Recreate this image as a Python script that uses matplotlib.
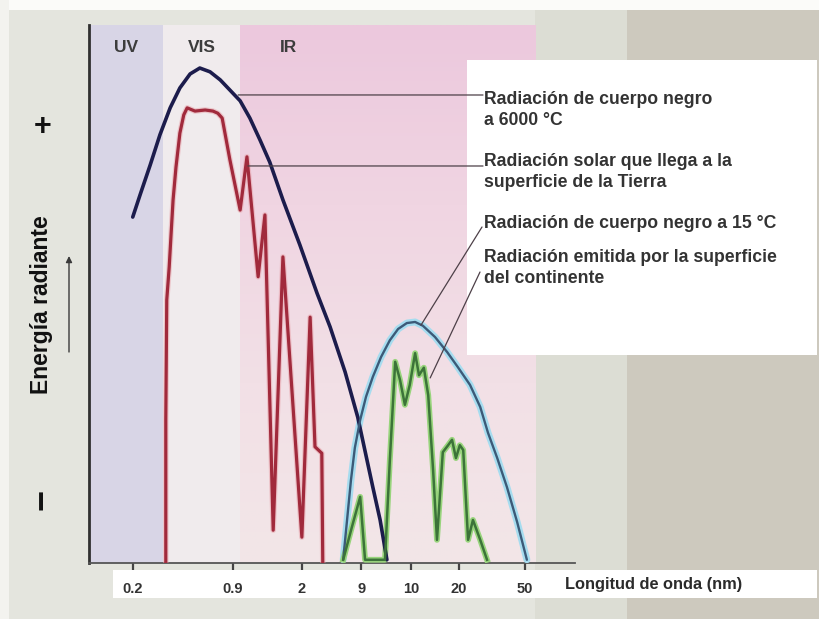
import matplotlib
matplotlib.use('Agg')
import matplotlib.pyplot as plt
import numpy as np
from matplotlib.patches import Rectangle
from matplotlib.colors import LinearSegmentedColormap
from matplotlib import font_manager as fm

W, H, DPI = 819, 619, 100

# ---------------- data ----------------
tick_pos = [9.05, 29.6, 43.8, 56.0, 66.3, 76.1, 89.7]
tick_labels = ['0.2', '0.9', '2', '9', '10', '20', '50']

band_names = ['UV', 'VIS', 'IR']
band_start = [0.0, 15.2, 31.1]
band_end = [15.2, 31.1, 92.0]

# black body at 6000 C
bb6000_x = [9.0, 10.5, 12.6, 14.6, 16.7, 18.7, 20.8, 22.8, 24.9, 27.0, 29.0, 31.1,
            33.1, 35.2, 37.2, 39.9, 43.4, 46.9, 49.6, 52.7, 55.3, 58.4, 59.9, 61.3]
bb6000_y = [64.3, 68.4, 74.0, 79.6, 84.6, 88.3, 90.9, 92.0, 91.3, 89.8, 87.9, 85.9,
            82.7, 78.6, 74.5, 67.5, 59.1, 50.2, 43.9, 35.5, 27.1, 14.1, 8.0, 0.6]

# solar radiation reaching the surface
solar_x = [15.8, 15.8, 16.0, 16.5, 16.9, 17.3, 17.9, 18.7, 19.5, 20.2, 21.8, 23.9, 25.5,
           26.5, 27.4, 29.0, 31.1, 32.5, 34.8, 36.2, 37.9, 39.9, 43.8, 45.5, 46.5, 47.9, 48.1]
solar_y = [0.2, 26.6, 48.9, 55.0, 61.3, 67.5, 73.6, 79.9, 83.3, 84.6, 84.0, 84.2, 84.0,
           83.6, 82.7, 74.9, 65.6, 75.5, 53.2, 64.7, 6.1, 56.9, 4.8, 45.7, 21.6, 20.4, 0.2]

# black body at 15 C
bb15_x = [52.3, 53.1, 53.9, 54.7, 55.8, 57.0, 58.4, 60.1, 61.9, 63.6, 65.4, 67.1,
          68.7, 71.2, 73.7, 75.9, 78.4, 80.5, 82.1, 84.0, 86.0, 88.1, 90.1]
bb15_y = [0.6, 8.0, 15.4, 21.4, 26.6, 30.9, 34.6, 38.3, 41.4, 43.5, 44.6, 44.8,
          44.1, 42.0, 39.2, 36.4, 33.1, 29.0, 24.2, 19.5, 14.1, 7.6, 0.6]

# radiation emitted by the land surface
land_x = [52.3, 54.1, 55.8, 56.8, 60.9, 61.9, 63.0, 64.0, 65.0, 66.0, 67.1, 67.9, 68.9,
          69.8, 70.8, 71.6, 72.8, 73.9, 74.7, 75.5, 76.3, 77.0, 78.0, 79.0, 80.5, 81.9]
land_y = [0.6, 6.7, 12.3, 0.6, 0.6, 19.1, 37.4, 34.0, 29.4, 33.1, 39.0, 34.9, 36.3,
          31.2, 17.3, 4.3, 20.6, 21.9, 22.9, 19.5, 21.9, 21.0, 4.3, 8.0, 4.3, 0.6]

labels = ['Radiación de cuerpo negro\na 6000 °C',
          'Radiación solar que llega a la\nsuperficie de la Tierra',
          'Radiación de cuerpo negro a 15 °C',
          'Radiación emitida por la superficie\ndel continente']
label_targets = [(30.7, 87.0), (32.7, 73.8), (68.3, 44.2), (70.2, 34.4)]

# ---------------- helpers ----------------
def fx(px):
    return px / W

def fy(py):
    return 1 - py / H

installed = {f.name for f in fm.fontManager.ttflist}
SANS = 'Liberation Sans' if 'Liberation Sans' in installed else 'DejaVu Sans'
if 'Liberation Sans Narrow' in installed:
    ylab_family, ylab_size = 'Liberation Sans Narrow', 20
else:
    ylab_family, ylab_size = SANS, 16.5

fig = plt.figure(figsize=(W / DPI, H / DPI), dpi=DPI)
fig.patch.set_facecolor('#e4e5de')

# page background pieces
for (x0, y0, x1, y1, c) in [(0, 0, 819, 10, '#fbfbf9'),
                            (0, 0, 9, 619, '#f3f3ef'),
                            (535, 10, 627, 619, '#dcddd4'),
                            (627, 10, 819, 619, '#cdc9be')]:
    fig.add_artist(Rectangle((fx(x0), fy(y1)), fx(x1) - fx(x0), fy(y0) - fy(y1),
                             transform=fig.transFigure, facecolor=c,
                             edgecolor='none', zorder=-2))

ax = fig.add_axes([fx(89), fy(563), fx(575) - fx(89), fy(25) - fy(563)])
ax.set_facecolor('none')

# spectral bands
ax.axvspan(band_start[0], band_end[0], color='#d8d5e6', lw=0, zorder=0)
ax.axvspan(band_start[1], band_end[1], color='#f0ebed', lw=0, zorder=0)
ir_cmap = LinearSegmentedColormap.from_list('ir', ['#f2e6e8', '#f2e0e6', '#f0d5e2', '#ecc8dd'])
grad = np.linspace(0, 1, 256).reshape(-1, 1)
ax.imshow(grad, extent=(band_start[2], band_end[2], 0, 100), origin='lower',
          aspect='auto', cmap=ir_cmap, zorder=0)

# white boxes
ax.add_artist(Rectangle((fx(467), fy(355)), fx(817) - fx(467), fy(60) - fy(355),
                        transform=fig.transFigure, facecolor='white', edgecolor='none',
                        zorder=1, clip_on=False))
ax.add_artist(Rectangle((fx(113), fy(598)), fx(817) - fx(113), fy(570) - fy(598),
                        transform=fig.transFigure, facecolor='white', edgecolor='none',
                        zorder=1, clip_on=False))

# band labels
band_label_x = [(band_start[0] + band_end[0]) / 2, (band_start[1] + band_end[1]) / 2,
                band_start[2] + 10]
for name, bx in zip(band_names, band_label_x):
    ax.text(bx, 95.9, name, ha='center', va='center', fontsize=12.5,
            fontweight='bold', family=SANS, color='#3c3c3c', zorder=6)

# curves
ax.plot(solar_x, solar_y, color='#e8a0a8', lw=4.0, alpha=0.5, zorder=3)
ax.plot(solar_x, solar_y, color='#a12a3c', lw=2.3, zorder=4)
ax.plot(bb6000_x, bb6000_y, color='#1c1c4c', lw=2.6, zorder=5, solid_capstyle='round')
ax.plot(bb15_x, bb15_y, color='#a6dcef', lw=5, zorder=4, solid_capstyle='round')
ax.plot(bb15_x, bb15_y, color='#3c5a78', lw=1.7, zorder=5, solid_capstyle='round')
ax.plot(land_x, land_y, color='#98d47c', lw=4.2, zorder=4)
ax.plot(land_x, land_y, color='#3c7339', lw=1.8, zorder=5)

# leader lines
line_ends = [(483, 95), (483, 166), (482, 227), (480, 272)]
for (tx, ty), (ex, ey) in zip(label_targets, line_ends):
    ax.annotate('', xy=(tx, ty), xycoords='data', xytext=(fx(ex), fy(ey)),
                textcoords='figure fraction', annotation_clip=False,
                arrowprops=dict(arrowstyle='-', color='#4d4048', lw=0.9,
                                shrinkA=0, shrinkB=0), zorder=6)

text_y = [110, 172, 223, 268]
for lab, ty in zip(labels, text_y):
    fig.text(fx(484), fy(ty), lab, ha='left', va='center', fontsize=12.7,
             fontweight='bold', family=SANS, color='#333333', linespacing=1.3)

# axes styling
ax.set_xlim(0, 100)
ax.set_ylim(0, 100)
for s in ['top', 'right']:
    ax.spines[s].set_visible(False)
ax.spines['left'].set_color('#303030')
ax.spines['left'].set_linewidth(2.0)
ax.spines['bottom'].set_color('#555555')
ax.spines['bottom'].set_linewidth(1.3)
ax.set_yticks([])
ax.set_xticks(tick_pos)
ax.set_xticklabels(tick_labels, fontsize=10.5, fontweight='bold', family=SANS, color='#333333')
ax.tick_params(axis='x', direction='out', length=5, width=1.6, color='#444444', pad=9)

fig.text(fx(565), fy(585), 'Longitud de onda (nm)', ha='left', va='center',
         fontsize=11.8, fontweight='bold', family=SANS, color='#2b2b2b')

# y-axis label and signs
fig.text(fx(42), fy(305), 'Energía radiante', rotation=90, ha='center', va='center',
         fontsize=ylab_size, fontweight='bold', family=ylab_family, color='#111111')
fig.text(fx(43), fy(127), '+', ha='center', va='center', fontsize=22,
         fontweight='bold', family=SANS, color='#111111')
fig.text(fx(43), fy(499), '−', rotation=90, ha='center', va='center', fontsize=26,
         fontweight='bold', family=SANS, color='#111111')
ax.annotate('', xy=(fx(69), fy(256)), xycoords='figure fraction',
            xytext=(fx(69), fy(352)), textcoords='figure fraction',
            annotation_clip=False,
            arrowprops=dict(arrowstyle='-|>', color='#3a3a3a', lw=1.0,
                            mutation_scale=9, shrinkA=0, shrinkB=0))

fig.savefig('out.png', dpi=DPI)
